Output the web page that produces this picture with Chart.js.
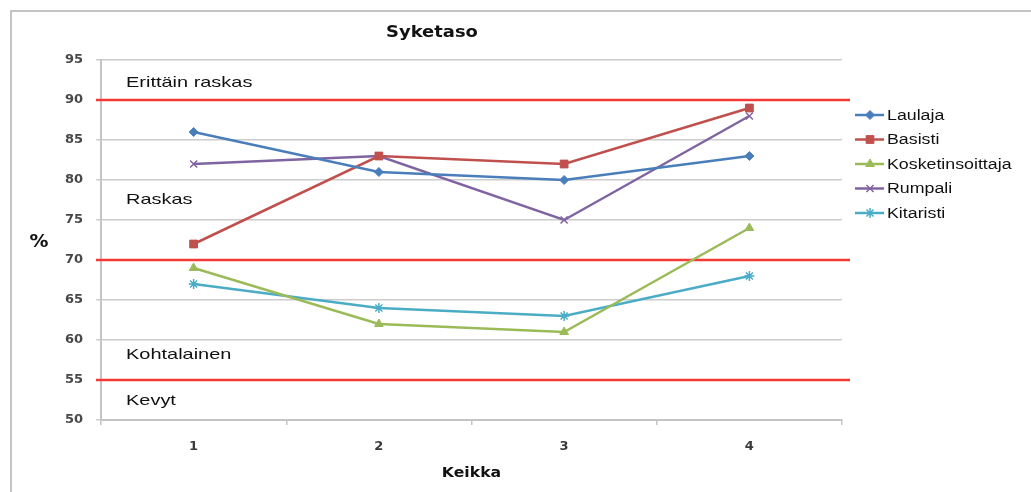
<!DOCTYPE html>
<html>
<head>
<meta charset="utf-8">
<script src="https://cdn.jsdelivr.net/npm/chart.js@4/dist/chart.umd.min.js"></script>
<style>
  html, body { margin: 0; padding: 0; background: #fff; }
  #wrap { width: 1031px; height: 492px; position: relative; }
</style>
</head>
<body>
<div id="wrap"><canvas id="c" width="1031" height="492"></canvas></div>
<script>
// Gig number on the x axis
const keikat = ['1', '2', '3', '4'];

// Heart-rate level (%) per band member
const laulaja = [86, 81, 80, 83];
const basisti = [72, 83, 82, 89];
const kosketinsoittaja = [69, 62, 61, 74];
const rumpali = [82, 83, 75, 88];
const kitaristi = [67, 64, 63, 68];

// Zone boundaries and zone names
const rajat = [90, 70, 55];
const vyohykkeet = ['Erittäin raskas', 'Raskas', 'Kohtalainen', 'Kevyt'];

const yMin = 50, yMax = 95, yStep = 5;

const SANS = '"Liberation Sans", Arial, sans-serif';
const VERD = '"DejaVu Sans", Verdana, sans-serif';

function series(label, data, color, style, radius) {
  return {
    label, data,
    borderColor: color,
    backgroundColor: color,
    borderWidth: 2.5,
    pointStyle: style,
    pointRadius: radius,
    pointHoverRadius: radius,
    pointBorderWidth: style === 'crossRot' || style === 'star' ? 1.5 : 1,
    pointBorderColor: color,
    pointBackgroundColor: color,
    tension: 0,
    fill: false
  };
}

// Text drawn with a horizontal stretch (wide typeface look)
function wideText(ctx, text, x, y, sx, align) {
  ctx.save();
  ctx.translate(x, y);
  ctx.scale(sx, 1);
  ctx.textAlign = align;
  ctx.fillText(text, 0, 0);
  ctx.restore();
}

// Frame, zone lines and annotation text
const decor = {
  id: 'decor',
  beforeDraw(chart) {
    const ctx = chart.ctx;
    ctx.save();
    ctx.strokeStyle = '#c4c4c4';
    ctx.lineWidth = 2;
    ctx.beginPath();
    ctx.moveTo(11, 492);
    ctx.lineTo(11, 11);
    ctx.lineTo(1031, 11);
    ctx.stroke();
    ctx.restore();
  },
  beforeDatasetsDraw(chart) {
    const ctx = chart.ctx;
    const y = chart.scales.y;
    const area = chart.chartArea;
    ctx.save();
    ctx.strokeStyle = '#f43a34';
    ctx.lineWidth = 2.5;
    rajat.forEach(v => {
      const py = Math.round(y.getPixelForValue(v));
      ctx.beginPath();
      ctx.moveTo(area.left - 5, py);
      ctx.lineTo(area.right + 8, py);
      ctx.stroke();
    });
    // zone names, placed inside each zone
    const spots = [92.2, 77.5, 58.2, 52.4];
    ctx.fillStyle = '#111';
    ctx.font = '15px ' + SANS;
    ctx.textBaseline = 'middle';
    vyohykkeet.forEach((t, i) => {
      wideText(ctx, t, area.left + 25, y.getPixelForValue(spots[i]), 1.33, 'left');
    });
    ctx.restore();
  },
  afterDraw(chart) {
    const ctx = chart.ctx;
    const area = chart.chartArea;
    ctx.save();
    ctx.fillStyle = '#111';
    ctx.textBaseline = 'middle';
    ctx.font = 'bold 16px ' + VERD;
    wideText(ctx, 'Syketaso', 432, 33, 1.12, 'center');
    ctx.font = 'bold 14px ' + VERD;
    wideText(ctx, 'Keikka', (area.left + area.right) / 2, 473, 1.12, 'center');
    ctx.font = 'bold 18px ' + VERD;
    wideText(ctx, '%', 39, 242, 1.05, 'center');

    // legend
    ctx.font = '14px ' + SANS;
    chart.data.datasets.forEach((ds, i) => {
      const ly = 115 + i * 24.5;
      ctx.strokeStyle = ds.borderColor;
      ctx.lineWidth = 2.5;
      ctx.beginPath();
      ctx.moveTo(855, ly);
      ctx.lineTo(884, ly);
      ctx.stroke();
      ctx.fillStyle = ds.borderColor;
      ctx.strokeStyle = ds.borderColor;
      ctx.lineWidth = ds.pointBorderWidth;
      Chart.helpers.drawPoint(ctx, {
        pointStyle: ds.pointStyle,
        rotation: 0,
        radius: ds.pointRadius,
        borderWidth: ds.pointBorderWidth
      }, 870, ly);
      ctx.fillStyle = '#111';
      wideText(ctx, ds.label, 887, ly + 1, 1.27, 'left');
    });
    ctx.restore();
  }
};

new Chart(document.getElementById('c'), {
  type: 'line',
  data: {
    labels: keikat,
    datasets: [
      series('Laulaja', laulaja, '#4a7ebb', 'rectRot', 4.5),
      series('Basisti', basisti, '#c0504d', 'rect', 5.5),
      series('Kosketinsoittaja', kosketinsoittaja, '#9bbb59', 'triangle', 5),
      series('Rumpali', rumpali, '#8064a2', 'crossRot', 5),
      series('Kitaristi', kitaristi, '#4bacc6', 'star', 5)
    ]
  },
  options: {
    responsive: false,
    animation: false,
    devicePixelRatio: 1,
    layout: { padding: { left: 0, top: 60, right: 189, bottom: 0 } },
    plugins: {
      legend: { display: false },
      title: { display: false },
      tooltip: { enabled: false }
    },
    scales: {
      x: {
        type: 'category',
        offset: true,
        grid: {
          offset: true,
          drawOnChartArea: false,
          drawTicks: true,
          tickLength: 5,
          color: '#c4c4c4',
          lineWidth: 1.5
        },
        border: { color: '#c4c4c4', width: 2 },
        ticks: {
          color: '#3a3a3a',
          font: { family: VERD, size: 13, weight: 'bold' },
          padding: 14
        },
        afterFit(s) { s.height = 72; }
      },
      y: {
        min: yMin,
        max: yMax,
        ticks: {
          stepSize: yStep,
          color: '#484848',
          font: { family: VERD, size: 13, weight: 'bold' },
          padding: 13
        },
        grid: {
          color: '#cccccc',
          lineWidth: 1.5,
          tickLength: 5
        },
        border: { color: '#c4c4c4', width: 2 },
        afterFit(s) { s.width = 101; }
      }
    }
  },
  plugins: [decor]
});
</script>
</body>
</html>
